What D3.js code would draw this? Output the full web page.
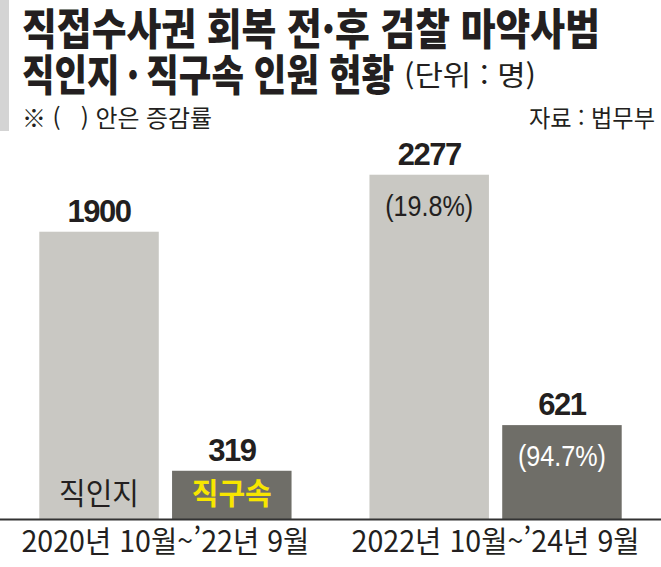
<!DOCTYPE html>
<html lang="ko">
<head>
<meta charset="UTF-8">
<title>검찰 마약사범 직인지·직구속 인원 현황</title>
<script src="https://d3js.org/d3.v7.min.js"></script>
<style>
  body { margin: 0; background: #fff; }
  svg { display: block; }
  text { font-family: "Noto Sans CJK KR", "Noto Sans", sans-serif; }
  .num { font-family: "Liberation Sans", Arial, sans-serif; }
</style>
</head>
<body>
<div id="chart"></div>
<script>
  const w = 661, h = 567;

  // data
  const periods = ["2020년 10월~’22년 9월", "2022년 10월~’24년 9월"];
  const series = ["직인지", "직구속"];
  const values = [[1900, 319], [2277, 621]];
  const rates = [[null, null], ["(19.8%)", "(94.7%)"]];

  const colors = { "직인지": "#c9c8c3", "직구속": "#6f6e68" };
  const baseY = 519;

  const svg = d3.select("#chart").append("svg")
    .attr("width", w)
    .attr("height", h);

  // side strip
  svg.append("rect").attr("x", 0).attr("y", 0).attr("width", 9).attr("height", 131).attr("fill", "#d4d4d4");

  // titles
  svg.append("text").attr("x", 22).attr("y", 45)
    .attr("font-size", 43).attr("font-weight", 900).attr("fill", "#231f20")
    .attr("textLength", 578).attr("lengthAdjust", "spacingAndGlyphs")
    .text("직접수사권 회복 전·후 검찰 마약사범");
  svg.append("text").attr("x", 22).attr("y", 91)
    .attr("font-size", 43).attr("font-weight", 900).attr("fill", "#231f20")
    .attr("textLength", 372).attr("lengthAdjust", "spacingAndGlyphs")
    .text("직인지\u2009·\u2009직구속 인원 현황");
  svg.append("text").attr("x", 404).attr("y", 86)
    .attr("font-size", 28).attr("fill", "#231f20")
    .attr("textLength", 132).attr("lengthAdjust", "spacingAndGlyphs")
    .text("(단위 : 명)");
  svg.append("text").attr("x", 22).attr("y", 127)
    .attr("font-size", 24).attr("fill", "#231f20")
    .attr("textLength", 190).attr("lengthAdjust", "spacingAndGlyphs")
    .text("※ (\u00a0\u00a0\u00a0) 안은 증감률");
  svg.append("text").attr("x", 655).attr("y", 127)
    .attr("font-size", 24).attr("fill", "#231f20").attr("text-anchor", "end")
    .attr("textLength", 126).attr("lengthAdjust", "spacingAndGlyphs")
    .text("자료 : 법무부");

  // scales
  const x0 = d3.scaleBand().domain(periods).range([1, 660]).paddingInner(0.236).paddingOuter(0.116);
  const x1 = d3.scaleBand().domain(series).range([0, x0.bandwidth()]).paddingInner(0.1);
  const y = d3.scaleLinear().domain([0, 2500]).range([baseY, baseY - 378]);

  const groups = svg.selectAll(".grp")
    .data(periods)
    .enter()
    .append("g")
    .attr("class", "grp")
    .attr("transform", (d) => `translate(${x0(d)},0)`);

  const bars = groups.selectAll(".bar")
    .data((d, i) => series.map((s, j) => ({ s, v: values[i][j], r: rates[i][j], i })))
    .enter()
    .append("g");

  bars.append("rect")
    .attr("x", (d) => x1(d.s))
    .attr("y", (d) => y(d.v))
    .attr("width", x1.bandwidth())
    .attr("height", (d) => baseY - y(d.v))
    .attr("fill", (d) => colors[d.s]);

  // value labels
  bars.append("text")
    .attr("class", "num")
    .attr("x", (d) => x1(d.s) + x1.bandwidth() / 2)
    .attr("y", (d) => y(d.v) - 10)
    .attr("text-anchor", "middle")
    .attr("font-size", 31).attr("font-weight", "bold").attr("fill", "#231f20")
    .attr("letter-spacing", -1.5)
    .text((d) => d.v);

  // rate labels
  bars.filter((d) => d.r)
    .append("text")
    .attr("class", "num")
    .attr("x", (d) => x1(d.s) + x1.bandwidth() / 2)
    .attr("y", (d) => y(d.v) + 41)
    .attr("text-anchor", "middle")
    .attr("font-size", 30)
    .attr("fill", (d) => d.s === "직구속" ? "#fff" : "#231f20")
    .attr("textLength", 88).attr("lengthAdjust", "spacingAndGlyphs")
    .text((d) => d.r);

  // series names in first group
  bars.filter((d) => d.i === 0)
    .append("text")
    .attr("x", (d) => x1(d.s) + x1.bandwidth() / 2)
    .attr("y", baseY - 15)
    .attr("text-anchor", "middle")
    .attr("font-size", 30)
    .attr("font-weight", (d) => d.s === "직구속" ? "bold" : "normal")
    .attr("fill", (d) => d.s === "직구속" ? "#f7e600" : "#231f20")
    .attr("textLength", 80).attr("lengthAdjust", "spacingAndGlyphs")
    .text((d) => d.s);

  // axis
  const xAxis = d3.axisBottom(x0).tickSize(0).tickPadding(12);
  const ax = svg.append("g").attr("transform", `translate(0,${baseY})`).call(xAxis);
  ax.select(".domain").remove();
  ax.selectAll("text")
    .attr("font-size", 30).attr("fill", "#231f20")
    .style("font-family", "'Noto Sans CJK KR', sans-serif")
    .attr("textLength", 288).attr("lengthAdjust", "spacingAndGlyphs");
  svg.append("line").attr("x1", 0).attr("x2", w).attr("y1", baseY + 0.5).attr("y2", baseY + 0.5)
    .attr("stroke", "#333").attr("stroke-width", 2);
</script>
</body>
</html>
